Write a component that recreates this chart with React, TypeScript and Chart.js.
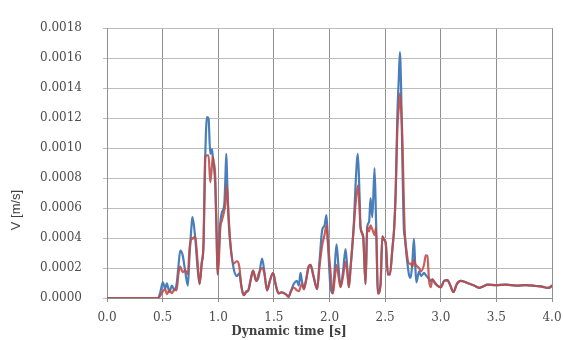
import React, { useEffect, useRef } from "react";
import { Chart, registerables } from "chart.js";

Chart.register(...registerables);

// Time axis samples [s]
const time: number[] = [
  0, 0.459, 0.477, 0.502, 0.523, 0.538, 0.561, 0.583, 0.606, 0.626,
  0.642, 0.658, 0.68, 0.703, 0.727, 0.741, 0.763, 0.768, 0.793, 0.811,
  0.832, 0.851, 0.868, 0.883, 0.898, 0.913, 0.928, 0.943, 0.951, 0.958,
  0.973, 0.985, 0.994, 1.005, 1.018, 1.033, 1.054, 1.063, 1.072, 1.078,
  1.09, 1.108, 1.138, 1.168, 1.189, 1.207, 1.228, 1.252, 1.27, 1.293,
  1.313, 1.342, 1.365, 1.394, 1.414, 1.439, 1.464, 1.493, 1.518, 1.543,
  1.568, 1.586, 1.608, 1.631, 1.653, 1.678, 1.707, 1.725, 1.739, 1.752,
  1.77, 1.788, 1.811, 1.829, 1.856, 1.889, 1.91, 1.934, 1.955, 1.973,
  1.986, 2.009, 2.03, 2.045, 2.063, 2.081, 2.099, 2.122, 2.144, 2.159,
  2.174, 2.189, 2.219, 2.234, 2.255, 2.27, 2.279, 2.303, 2.324, 2.339,
  2.356, 2.369, 2.385, 2.405, 2.419, 2.435, 2.459, 2.475, 2.491, 2.505,
  2.525, 2.543, 2.565, 2.581, 2.595, 2.61, 2.622, 2.633, 2.644, 2.655,
  2.669, 2.676, 2.694, 2.714, 2.73, 2.745, 2.759, 2.77, 2.781, 2.805,
  2.824, 2.85, 2.865, 2.88, 2.895, 2.91, 2.925, 2.946, 2.97, 3.0,
  3.03, 3.06, 3.086, 3.114, 3.144, 3.18, 3.234, 3.3, 3.345, 3.378,
  3.421, 3.495, 3.586, 3.676, 3.766, 3.856, 3.91, 3.961, 3.991, 4.0,
];

// Blue series V [m/s]
const vBlue: number[] = [
  0, 0, 0.000032, 0.000104, 0.000062, 0.000097, 0.00004, 0.000083, 0.000051, 0.000095,
  0.00021, 0.000316, 0.000286, 0.000178, 0.000083, 0.000273, 0.000509, 0.000539, 0.000401, 0.000229,
  0.000093, 0.000229, 0.000369, 0.000941, 0.001207, 0.001196, 0.000962, 0.000994, 0.000941, 0.000899,
  0.000751, 0.000432, 0.000157, 0.000305, 0.000496, 0.000571, 0.000623, 0.000772, 0.000962, 0.000846,
  0.00056, 0.000369, 0.000199, 0.000146, 0.000165, 0.000083, 0.000019, 0.000045, 0.000051, 0.000127,
  0.000183, 0.000114, 0.000146, 0.000263, 0.000178, 0.000051, 0.000114, 0.000167, 0.000083, 0.00003,
  0.000038, 0.000034, 0.000025, 0.000008, 0.000045, 0.000093, 0.000114, 0.000083, 0.000167, 0.000114,
  0.000064, 0.000114, 0.000204, 0.000221, 0.000146, 0.000059, 0.000242, 0.000453, 0.000483, 0.000553,
  0.000369, 0.000072, 0.00003, 0.000178, 0.000358, 0.00021, 0.000072, 0.000178, 0.000326, 0.00021,
  0.000072, 0.000199, 0.000496, 0.000751, 0.000962, 0.000687, 0.000475, 0.000412, 0.000093, 0.000475,
  0.000509, 0.000666, 0.000539, 0.000867, 0.000496, 0.00003, 0.000093, 0.000412, 0.000388, 0.000369,
  0.000157, 0.000157, 0.000326, 0.000464, 0.000708, 0.001217, 0.00145, 0.001641, 0.001387, 0.00092,
  0.000453, 0.000412, 0.000273, 0.000157, 0.000135, 0.000242, 0.000394, 0.000229, 0.000104, 0.000178,
  0.000146, 0.000167, 0.000153, 0.00014, 0.000127, 0.000114, 0.000125, 0.000102, 0.000083, 0.000072,
  0.000114, 0.000119, 0.000083, 0.00004, 0.000093, 0.000114, 0.000102, 0.000083, 0.000068, 0.000076,
  0.000089, 0.000086, 0.000089, 0.000083, 0.000086, 0.00008, 0.000076, 0.000067, 0.000076, 0.000087,
];

// Red series V [m/s]
const vRed: number[] = [
  0, 0, 0.000013, 0.000045, 0.000057, 0.000025, 0.000051, 0.000032, 0.000057, 0.000051,
  0.000159, 0.00021, 0.000172, 0.000184, 0.000159, 0.000324, 0.000401, 0.000394, 0.000412, 0.000273,
  0.000093, 0.000229, 0.000369, 0.000941, 0.000952, 0.000952, 0.000772, 0.000878, 0.000941, 0.00091,
  0.000814, 0.000432, 0.000157, 0.000242, 0.000464, 0.000517, 0.000581, 0.000623, 0.000719, 0.000751,
  0.000592, 0.000369, 0.000229, 0.000246, 0.00021, 0.000083, 0.000019, 0.000038, 0.000051, 0.000127,
  0.000183, 0.000114, 0.000165, 0.000199, 0.000165, 0.000051, 0.000114, 0.000167, 0.000083, 0.00003,
  0.000038, 0.000034, 0.000025, 0.000008, 0.000045, 0.00007, 0.000051, 0.000045, 0.000072, 0.000095,
  0.000057, 0.000114, 0.000204, 0.000221, 0.000146, 0.000059, 0.00021, 0.00035, 0.00042, 0.000485,
  0.000369, 0.000178, 0.00003, 0.000114, 0.000221, 0.000146, 0.000072, 0.000146, 0.000242, 0.000178,
  0.000072, 0.000199, 0.000483, 0.000623, 0.000751, 0.000592, 0.000464, 0.000401, 0.000093, 0.000475,
  0.000445, 0.000485, 0.000458, 0.00042, 0.000471, 0.00003, 0.000093, 0.000412, 0.000388, 0.000369,
  0.000157, 0.000157, 0.000326, 0.000464, 0.000708, 0.001132, 0.001259, 0.001366, 0.001259, 0.001069,
  0.000623, 0.000453, 0.000305, 0.000229, 0.000229, 0.00021, 0.000254, 0.000229, 0.000216, 0.000199,
  0.000178, 0.000223, 0.000284, 0.00028, 0.000114, 0.000072, 0.000125, 0.000102, 0.000083, 0.000072,
  0.000114, 0.000119, 0.000083, 0.00004, 0.000093, 0.000114, 0.000102, 0.000083, 0.000068, 0.000076,
  0.000089, 0.000086, 0.000089, 0.000083, 0.000086, 0.00008, 0.000076, 0.000067, 0.000076, 0.000087,
];

const xTitle = "Dynamic time [s]";
const yTitle = "V [m/s]";

const titlesPlugin = {
  id: "customTitles",
  afterDraw(chart: any) {
    const ctx = chart.ctx;
    ctx.save();
    ctx.fillStyle = "#404040";
    ctx.textAlign = "center";
    ctx.textBaseline = "middle";
    ctx.font = 'bold 12px "DejaVu Serif"';
    ctx.fillText(xTitle, 289, 332);
    ctx.translate(16, 210);
    ctx.rotate(-Math.PI / 2);
    ctx.font = '13px "Liberation Sans"';
    ctx.fillText(yTitle, 0, 0);
    ctx.restore();
  },
};

export default function App() {
  const ref = useRef<HTMLCanvasElement>(null);

  useEffect(() => {
    document.body.style.margin = "0";
    const canvas = ref.current;
    if (!canvas) return;
    const blueData = time.map((t, i) => ({ x: t, y: vBlue[i] }));
    const redData = time.map((t, i) => ({ x: t, y: vRed[i] }));
    const chart = new Chart(canvas, {
      type: "line",
      data: {
        datasets: [
          {
            label: "Red",
            data: redData,
            borderColor: "rgba(190, 75, 72, 0.88)",
            borderWidth: 2.2,
            pointRadius: 0,
            cubicInterpolationMode: "monotone",
            order: 1,
          },
          {
            label: "Blue",
            data: blueData,
            borderColor: "#4a7ebb",
            borderWidth: 2.2,
            pointRadius: 0,
            cubicInterpolationMode: "monotone",
            order: 2,
          },
        ],
      },
      options: {
        animation: false,
        responsive: false,
        devicePixelRatio: 1,
        layout: { padding: { top: 15, right: 11, left: 0, bottom: 0 } },
        plugins: { legend: { display: false }, tooltip: { enabled: false } },
        scales: {
          x: {
            type: "linear",
            min: 0,
            max: 4,
            afterFit: (scale: any) => {
              scale.height = 42;
              scale.paddingLeft = 0;
              scale.paddingRight = 0;
            },
            ticks: {
              stepSize: 0.5,
              padding: 9,
              maxRotation: 0,
              color: "#4d4d4d",
              font: { family: '"DejaVu Serif"', size: 12 },
              callback: (v: any) => Number(v).toFixed(1),
            },
            grid: { color: "#8f8f8f", tickLength: 4 },
            border: { color: "#8f8f8f" },
          },
          y: {
            type: "linear",
            min: 0,
            max: 0.0018,
            afterFit: (scale: any) => {
              scale.width = 107;
            },
            ticks: {
              stepSize: 0.0002,
              padding: 21,
              color: "#4d4d4d",
              font: { family: '"DejaVu Serif"', size: 12 },
              callback: (v: any) => Number(v).toFixed(4),
            },
            grid: { color: "#bdbdbd", tickLength: 4 },
            border: { color: "#8f8f8f" },
          },
        },
      },
      plugins: [titlesPlugin],
    });
    return () => chart.destroy();
  }, []);

  return (
    <div style={{ position: "fixed", left: 0, top: 0, width: 563, height: 340, background: "#fff" }}>
      <canvas ref={ref} width={563} height={340} />
    </div>
  );
}
